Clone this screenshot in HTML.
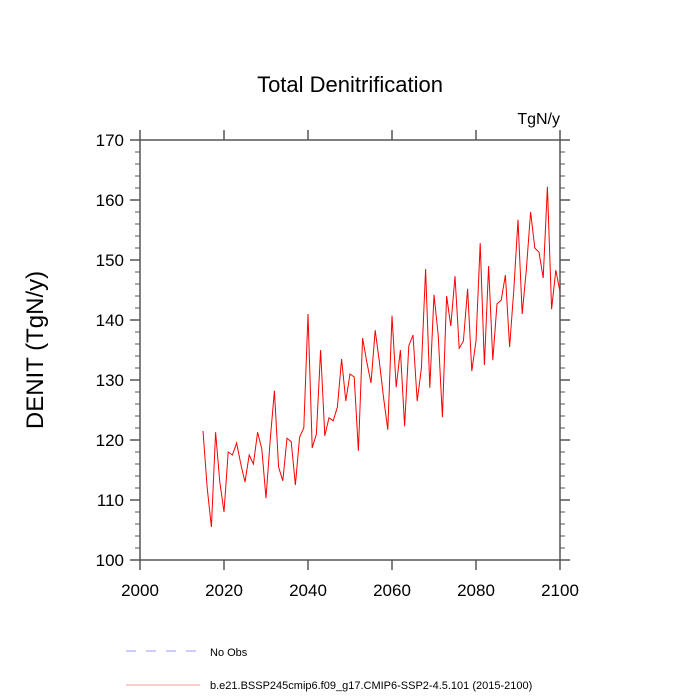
<!DOCTYPE html>
<html><head><meta charset="utf-8"><style>
html,body{margin:0;padding:0;background:#fff}
svg{display:block;font-family:"Liberation Sans",sans-serif}
</style></head><body>
<svg id="chart" width="700" height="700" viewBox="0 0 700 700">
<text x="350" y="92" font-size="22" text-anchor="middle">Total Denitrification</text>
<text x="560" y="124" font-size="16" text-anchor="end">TgN/y</text>
<text transform="translate(43,350) rotate(-90)" font-size="24" text-anchor="middle">DENIT  (TgN/y)</text>
<g id="axes"></g>
<polyline id="series" fill="none" stroke="#ff0000" stroke-width="1"/>
<g>
<line x1="126" y1="651" x2="200" y2="651" stroke="#9999ff" stroke-dasharray="10,10"/>
<text x="210" y="656" font-size="11">No Obs</text>
<line x1="126" y1="685" x2="200" y2="685" stroke="#ff9999"/>
<text x="210" y="689" font-size="11">b.e21.BSSP245cmip6.f09_g17.CMIP6-SSP2-4.5.101 (2015-2100)</text>
</g>
</svg>
<script>
const startYear = 2015;
const denit = [121.5,112,105.5,121.3,113,108,118,117.5,119.5,116,113,117.5,116,121.3,118.5,110.3,120,128.2,115.5,113.2,120.3,119.7,112.5,120.5,122,141,118.7,121,135,120.7,123.7,123.2,125.5,133.5,126.5,131,130.5,118.2,137,133,129.5,138.3,133,127,121.7,140.7,128.8,135,122.3,135.7,137.5,126.5,132,148.5,128.7,144.2,137.5,123.8,144,139,147.3,135.3,136.5,145.2,131.5,136.5,152.8,132.5,149,133.3,142.7,143.3,147.5,135.5,145,156.7,141,148.5,158,152,151.3,147,162.2,141.8,148.3,144.7];
const xTicks = [2000,2020,2040,2060,2080,2100];
const yTicks = [100,110,120,130,140,150,160,170];
const xMin=2000,xMax=2100,yMin=100,yMax=170;
const L=140,R=560,T=140,B=560;
const sx=v=>L+(v-xMin)/(xMax-xMin)*(R-L);
const sy=v=>B-(v-yMin)/(yMax-yMin)*(B-T);
const NS='http://www.w3.org/2000/svg';
const g=document.getElementById('axes');
function ln(x1,y1,x2,y2,name,w){const e=document.createElementNS(NS,'line');
e.setAttribute('x1',x1);e.setAttribute('y1',y1);e.setAttribute('x2',x2);e.setAttribute('y2',y2);
e.setAttribute('stroke','#555');e.setAttribute('stroke-width',w||1.5);


g.appendChild(e);}
function tx(x,y,s,anchor,name){const e=document.createElementNS(NS,'text');
e.setAttribute('x',x);e.setAttribute('y',y);e.setAttribute('font-size',17);e.setAttribute('text-anchor',anchor);e.textContent=s;


g.appendChild(e);}
ln(L,T,R,T,'top-axis');ln(L,B,R,B,'bottom-axis');ln(L,T,L,B,'left-axis');ln(R,T,R,B,'right-axis');
xTicks.forEach(v=>{const x=sx(v);ln(x,B,x,B+10,'x-tick');ln(x,T,x,T-10,'top-tick');tx(x,B+36,String(v),'middle','x-tick-label');});
for(let v=yMin;v<=yMax;v+=2){const y=sy(v);const maj=(v%10===0);
ln(L,y,L-(maj?10:5),y,'y-tick',maj?1.5:1);ln(R,y,R+(maj?10:5),y,'right-tick',maj?1.5:1);}
yTicks.forEach(v=>tx(L-16,sy(v)+6,String(v),'end','y-tick-label'));
document.getElementById('series').setAttribute('points',denit.map((v,i)=>sx(startYear+i)+','+sy(v)).join(' '));
</script>
</body></html>
